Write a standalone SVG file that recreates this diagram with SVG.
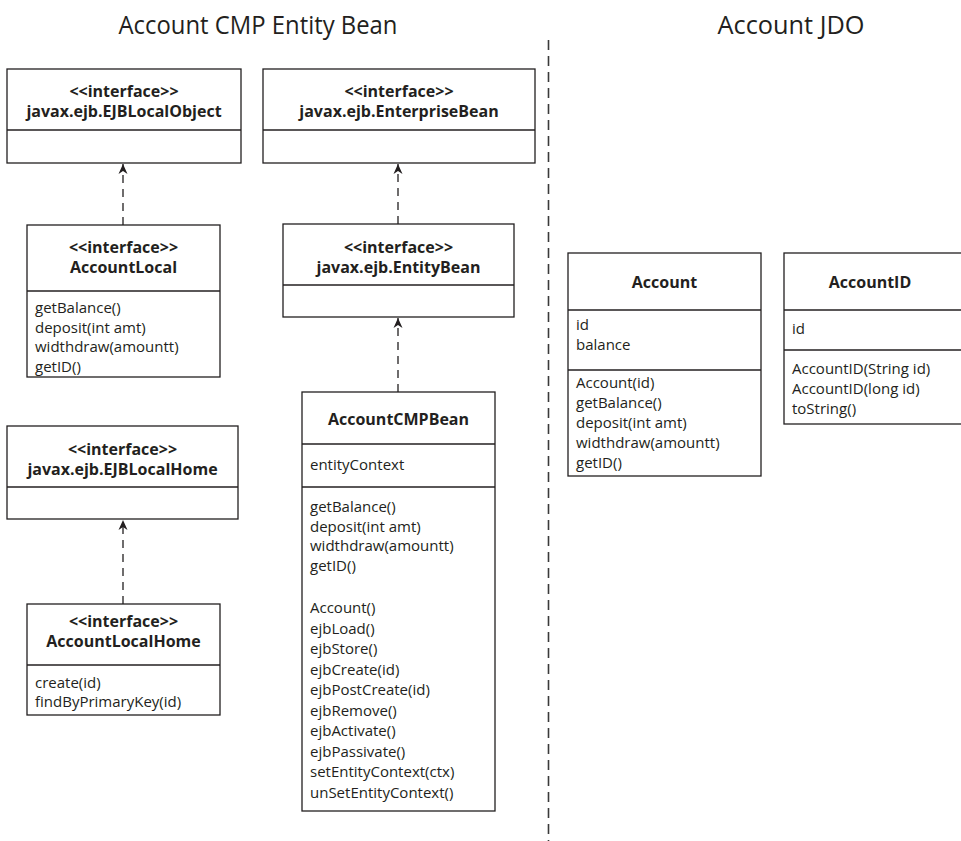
<svg xmlns="http://www.w3.org/2000/svg" width="961" height="841" viewBox="0 0 961 841">
<defs>
<style>
.box{fill:#fff;stroke:#231f20;stroke-width:1.3}
.div{stroke:#231f20;stroke-width:1.3}
.t{font-family:"Open Sans","Noto Sans",sans-serif;font-size:15px;fill:#231f20}
.b{font-family:"Open Sans","Noto Sans",sans-serif;font-size:16px;font-weight:bold;fill:#231f20;text-anchor:middle}
.title{font-family:"Open Sans","Noto Sans",sans-serif;font-size:26px;fill:#231f20;text-anchor:middle}
.dep{stroke:#231f20;stroke-width:1.3;stroke-dasharray:8 6;fill:none}
.sep{stroke:#3a3a3a;stroke-width:1.6;stroke-dasharray:10 6;fill:none}
</style>
<marker id="arr" markerWidth="12" markerHeight="12" viewBox="-11 -6 12 12" refX="0" refY="0" orient="auto" markerUnits="userSpaceOnUse">
<path d="M0,0 L-10,-4.5 L-7,0 L-10,4.5 Z" fill="#231f20"/>
</marker>
</defs>
<rect width="961" height="841" fill="#fff"/>

<g id="titles">
<text class="title" x="258" y="34" textLength="279" lengthAdjust="spacingAndGlyphs">Account CMP Entity Bean</text>
<text class="title" x="791" y="34" textLength="147" lengthAdjust="spacingAndGlyphs">Account JDO</text>
</g>

<g id="separator">
<line class="sep" x1="548.5" y1="40" x2="548.5" y2="841"/>
</g>

<g id="connectors">
<line class="dep" x1="123" y1="225" x2="123" y2="164" marker-end="url(#arr)"/>
<line class="dep" x1="398" y1="224" x2="398" y2="164" marker-end="url(#arr)"/>
<line class="dep" x1="398" y1="392" x2="398" y2="318" marker-end="url(#arr)"/>
<line class="dep" x1="123" y1="604" x2="123" y2="520" marker-end="url(#arr)"/>
</g>

<g id="EJBLocalObject">
<rect class="box" x="7" y="69" width="234" height="94"/>
<line class="div" x1="7" y1="130" x2="241" y2="130"/>
<text class="b" x="124" y="97">&lt;&lt;interface&gt;&gt;</text>
<text class="b" x="124" y="117">javax.ejb.EJBLocalObject</text>
</g>

<g id="EnterpriseBean">
<rect class="box" x="263" y="69" width="272" height="94"/>
<line class="div" x1="263" y1="130" x2="535" y2="130"/>
<text class="b" x="399" y="97">&lt;&lt;interface&gt;&gt;</text>
<text class="b" x="399" y="117">javax.ejb.EnterpriseBean</text>
</g>

<g id="AccountLocal">
<rect class="box" x="27" y="225" width="193" height="152"/>
<line class="div" x1="27" y1="291" x2="220" y2="291"/>
<text class="b" x="123.5" y="253">&lt;&lt;interface&gt;&gt;</text>
<text class="b" x="123.5" y="273">AccountLocal</text>
<text class="t" x="35" y="313">getBalance()</text>
<text class="t" x="35" y="333">deposit(int amt)</text>
<text class="t" x="35" y="352">widthdraw(amountt)</text>
<text class="t" x="35" y="372">getID()</text>
</g>

<g id="EntityBean">
<rect class="box" x="283" y="224" width="231" height="93"/>
<line class="div" x1="283" y1="285" x2="514" y2="285"/>
<text class="b" x="398.5" y="253">&lt;&lt;interface&gt;&gt;</text>
<text class="b" x="398.5" y="273">javax.ejb.EntityBean</text>
</g>

<g id="EJBLocalHome">
<rect class="box" x="7" y="426" width="231" height="93"/>
<line class="div" x1="7" y1="487" x2="238" y2="487"/>
<text class="b" x="122.5" y="455">&lt;&lt;interface&gt;&gt;</text>
<text class="b" x="122.5" y="475">javax.ejb.EJBLocalHome</text>
</g>

<g id="AccountLocalHome">
<rect class="box" x="27" y="604" width="193" height="111"/>
<line class="div" x1="27" y1="665" x2="220" y2="665"/>
<text class="b" x="123.5" y="627">&lt;&lt;interface&gt;&gt;</text>
<text class="b" x="123.5" y="647">AccountLocalHome</text>
<text class="t" x="35" y="688">create(id)</text>
<text class="t" x="35" y="707">findByPrimaryKey(id)</text>
</g>

<g id="AccountCMPBean">
<rect class="box" x="302" y="392" width="193" height="419"/>
<line class="div" x1="302" y1="444" x2="495" y2="444"/>
<line class="div" x1="302" y1="487" x2="495" y2="487"/>
<text class="b" x="398.5" y="425">AccountCMPBean</text>
<text class="t" x="310" y="470">entityContext</text>
<text class="t" x="310" y="512">getBalance()</text>
<text class="t" x="310" y="531.5">deposit(int amt)</text>
<text class="t" x="310" y="551">widthdraw(amountt)</text>
<text class="t" x="310" y="570.5">getID()</text>
<text class="t" x="310" y="613">Account()</text>
<text class="t" x="310" y="633.5">ejbLoad()</text>
<text class="t" x="310" y="654">ejbStore()</text>
<text class="t" x="310" y="674.5">ejbCreate(id)</text>
<text class="t" x="310" y="695">ejbPostCreate(id)</text>
<text class="t" x="310" y="715.5">ejbRemove()</text>
<text class="t" x="310" y="736">ejbActivate()</text>
<text class="t" x="310" y="756.5">ejbPassivate()</text>
<text class="t" x="310" y="777">setEntityContext(ctx)</text>
<text class="t" x="310" y="797.5">unSetEntityContext()</text>
</g>

<g id="Account">
<rect class="box" x="568" y="253" width="193" height="223"/>
<line class="div" x1="568" y1="310" x2="761" y2="310"/>
<line class="div" x1="568" y1="370" x2="761" y2="370"/>
<text class="b" x="664.5" y="288">Account</text>
<text class="t" x="576" y="330">id</text>
<text class="t" x="576" y="350">balance</text>
<text class="t" x="576" y="388">Account(id)</text>
<text class="t" x="576" y="408">getBalance()</text>
<text class="t" x="576" y="428">deposit(int amt)</text>
<text class="t" x="576" y="448">widthdraw(amountt)</text>
<text class="t" x="576" y="468">getID()</text>
</g>

<g id="AccountID">
<rect class="box" x="784" y="253" width="190" height="171"/>
<line class="div" x1="784" y1="310" x2="974" y2="310"/>
<line class="div" x1="784" y1="350" x2="974" y2="350"/>
<text class="b" x="870" y="288">AccountID</text>
<text class="t" x="792" y="334">id</text>
<text class="t" x="792" y="374">AccountID(String id)</text>
<text class="t" x="792" y="394">AccountID(long id)</text>
<text class="t" x="792" y="414">toString()</text>
</g>
</svg>
